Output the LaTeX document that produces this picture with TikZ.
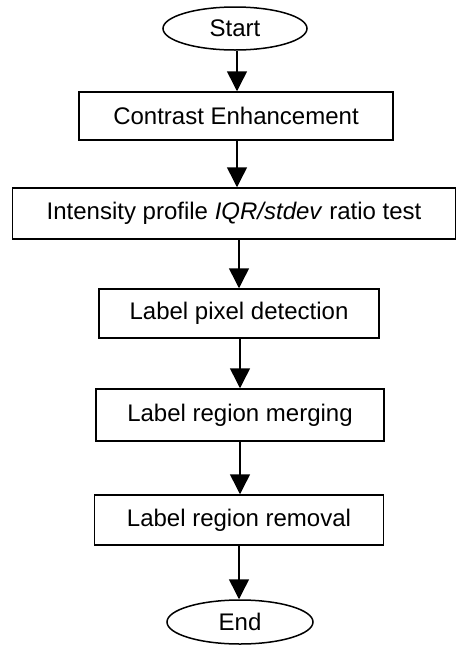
\documentclass[tikz,border=0pt]{standalone}
\usepackage{fontspec}
\setmainfont{Liberation Sans}
\usetikzlibrary{shapes.geometric,arrows.meta}
\begin{document}
\begin{tikzpicture}[x=1pt,y=-1pt,
  every node/.style={font=\fontsize{24}{28}\selectfont, inner sep=0pt},
  procbox/.style={draw, line width=1.5pt, rectangle, minimum height=#1},
  procbox/.default=50pt,
  term/.style={draw, line width=1.5pt, ellipse, minimum width=144pt, minimum height=43pt},
  flow/.style={line width=1.5pt, -{Triangle[length=20pt,width=20pt]}}]
\useasboundingbox (0,0) rectangle (457,646);
\node[term] (start) at (235,28.5) {Start};
\node[procbox=48pt, minimum width=314pt] (ce) at (236,116) {Contrast Enhancement};
\node[procbox=51pt, minimum width=443pt] (iqr) at (234,213.5) {Intensity profile \textit{IQR/stdev} ratio test};
\node[procbox=49pt, minimum width=280pt] (lpd) at (239,313.5) {Label pixel detection};
\node[procbox=52pt, minimum width=288pt] (lrm) at (240,415) {Label region merging};
\node[procbox=50pt, minimum width=289pt] (lrr) at (239,520) {Label region removal};
\node[term, minimum width=146pt, minimum height=44pt] (end) at (240,622) {End};
\draw[flow] (start.south -| 237,0) -- (237,0 |- ce.north);
\draw[flow] (237,0 |- ce.south) -- (237,0 |- iqr.north);
\draw[flow] (239,0 |- iqr.south) -- (239,0 |- lpd.north);
\draw[flow] (240,0 |- lpd.south) -- (240,0 |- lrm.north);
\draw[flow] (240,0 |- lrm.south) -- (240,0 |- lrr.north);
\draw[flow] (239,0 |- lrr.south) -- (239,0 |- end.north);
\end{tikzpicture}
\end{document}
